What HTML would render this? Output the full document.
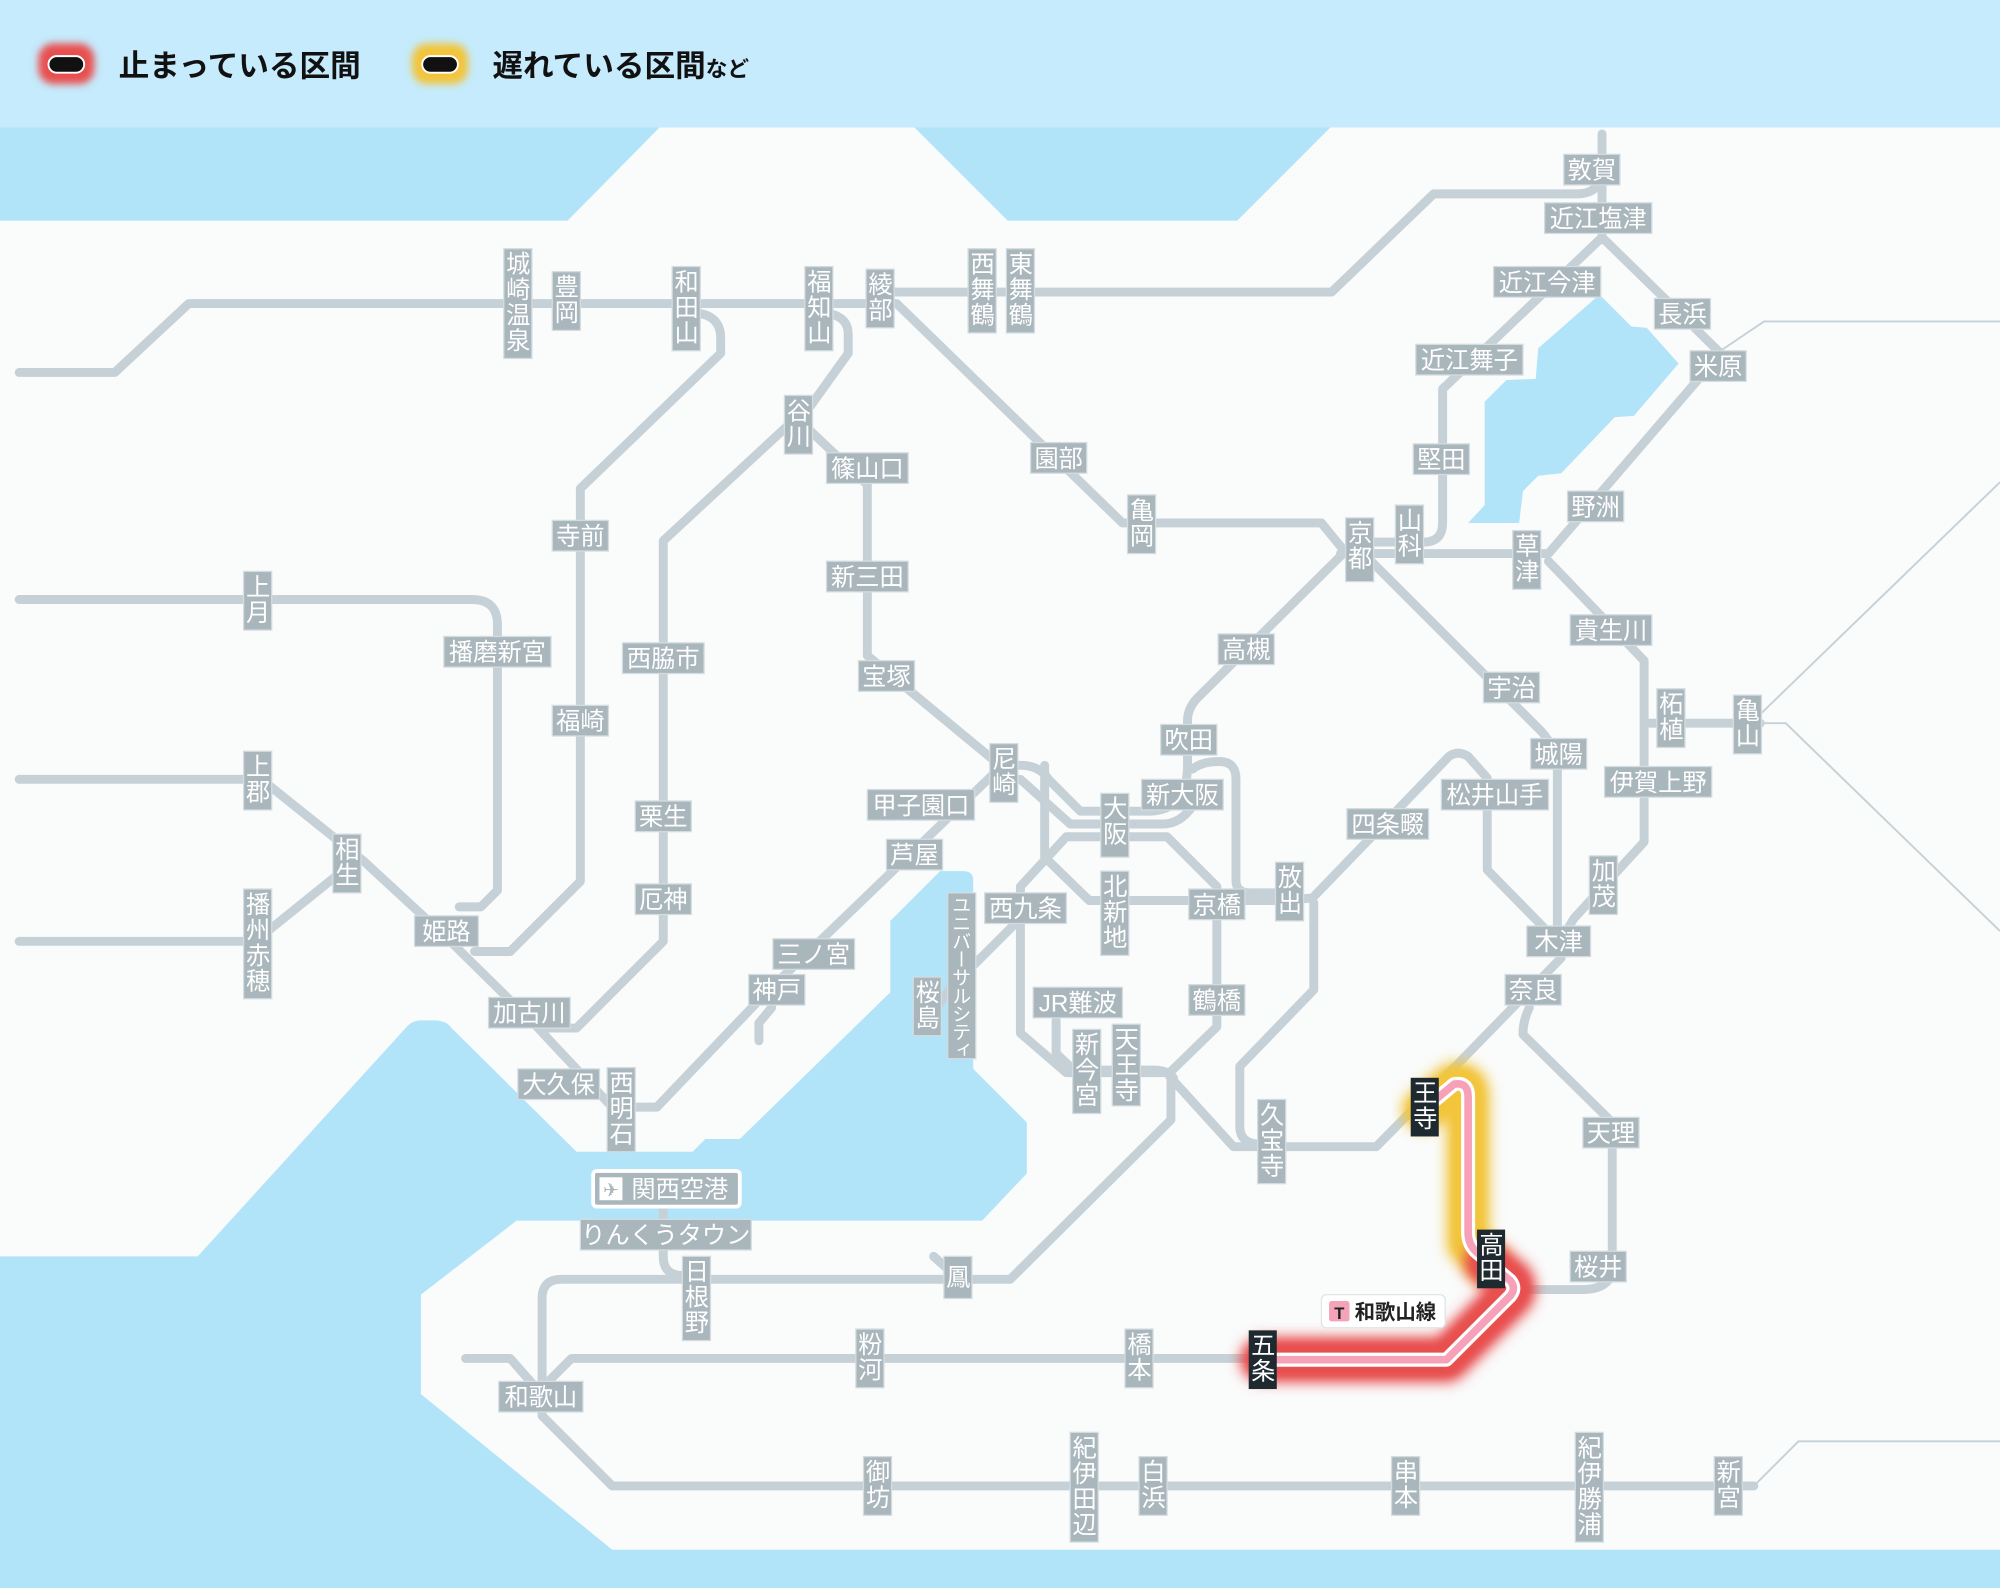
<!DOCTYPE html>
<html><head><meta charset="utf-8"><style>
html,body{margin:0;padding:0;background:#fafbfb;}
svg{display:block;}
.l{fill:none;stroke:#c6d1d7;stroke-width:7;stroke-linejoin:round;stroke-linecap:round;}
.t{fill:none;stroke:#c6d1d7;stroke-width:1.5;}
.b{fill:#a9b6bc;stroke:#d4dce0;stroke-width:1;}
.d{fill:#1e2a30;}
text{font-family:"Liberation Sans","Noto Sans CJK JP",sans-serif;}
.h{font-size:19px;fill:#fff;text-anchor:middle;}
.v{font-size:19px;fill:#fff;writing-mode:vertical-rl;letter-spacing:1px;}
</style></head><body>
<svg width="2000" height="1588" viewBox="0 0 1568 1245" xmlns="http://www.w3.org/2000/svg">
<defs>
<filter id="bl" x="-50%" y="-50%" width="200%" height="200%"><feGaussianBlur stdDeviation="5"/></filter>
<filter id="bl2" x="-50%" y="-50%" width="200%" height="200%"><feGaussianBlur stdDeviation="3"/></filter>
</defs>
<rect x="0" y="0" width="1568" height="1245" fill="#b1e3f9"/>
<rect x="0" y="0" width="1568" height="100" fill="#c5ebfd"/>
<!-- land -->
<path fill="#fafbfb" d="M0,173 H445 L517,100 H717 L790,173 H970 L1043,100 H1568 V1215 H480 L330,1093 V1015 L405,957 H770 L805,920 V880 L763,838 V690 Q763,683 755,683 H737 L698,722 V778 L580,893 H553 L543,903 H452 L354,806 Q350,800 340,800 H330 Q323,800 318,806 L155,985 H0 Z"/>
<!-- lake biwa -->
<path fill="#b1e3f9" d="M1254,231 L1279,256 L1291,257 L1316,285 L1281,326 L1266,327 L1224,371 L1206,373 L1194,385 L1191,410 L1151,410 L1164,396 L1164,315 L1181,298 L1204,297 L1206,273 Z"/>

<!-- legend -->
<rect x="30" y="34" width="44" height="32" rx="12" fill="#e8504f" filter="url(#bl2)"/>
<rect x="38" y="44" width="28" height="13" rx="6.5" fill="#111" stroke="#fff" stroke-width="1.5"/>
<text x="93" y="60" style="font-size:24px;font-weight:bold;fill:#111">止まっている区間</text>
<rect x="323" y="34" width="44" height="32" rx="12" fill="#f2c53a" filter="url(#bl2)"/>
<rect x="331" y="44" width="28" height="13" rx="6.5" fill="#111" stroke="#fff" stroke-width="1.5"/>
<text x="386" y="60" style="font-size:24px;font-weight:bold;fill:#111">遅れている区間<tspan style="font-size:17px">など</tspan></text>

<!-- thin lines -->
<path class="t" d="M1349,275 L1383,252 H1568"/>
<path class="t" d="M1370,567 H1400 L1568,730"/>
<path class="t" d="M1380,560 L1568,378"/>
<path class="t" d="M1375,1165 L1410,1130 H1568"/>

<!-- lines -->
<path class="l" d="M15,292 H90 L148,238 H703 L880,410 H1036 L1054,432"/>
<path class="l" d="M700,229 H1044 L1124,152 H1236 Q1254,152 1256,136"/>
<path class="l" d="M1256,105 V188"/>
<path class="l" d="M1254,188 L1131,305 V410 Q1131,425 1116,425 H1066"/>
<path class="l" d="M1258,188 L1349,277 L1214,434"/>
<path class="l" d="M1051,434 H1214"/>
<path class="l" d="M1214,440 L1289,518 V660 L1234,720 L1222,740"/>
<path class="l" d="M1289,567 H1380"/>
<path class="l" d="M1075,440 L1205,570 Q1221,585 1221,605 V740"/>
<path class="l" d="M1055,432 L938,548 Q931,556 931,565 V600 Q931,636 900,636 H847 L822,611 Q815,600 800,600 H788"/>
<path class="l" d="M790,611 H800 L839,646 H912 Q925,646 935,632"/>
<path class="l" d="M935,603 Q942,597 956,597 Q969,597 969,611 V690 Q969,700 980,700 H1006"/>
<path class="l" d="M640,245 Q665,245 665,262 V277 L627,330 L680,380 V514 L790,605"/>
<path class="l" d="M627,325 L520,424 V738 L452,806 H425"/>
<path class="l" d="M540,245 Q565,245 565,265 V277 L455,383 V691 L400,746 H372"/>
<path class="l" d="M15,470 H370 Q390,470 390,490 V698 L377,711 H360"/>
<path class="l" d="M15,611 H205 L285,675 L350,735 L420,804 L480,868 H515 L600,779 L786,600"/>
<path class="l" d="M15,738 H200 L272,680"/>
<path class="l" d="M605,790 L595,802 V816"/>
<path class="l" d="M819,600 V672 L854,706 H1006 L1029,704 L1136,593 Q1143,588 1151,593 L1166,610 V682 L1214,731"/>
<path class="l" d="M836,656 H915 L954,695 V805 L917,841 H836 L800,810 V695 Z"/>
<path class="l" d="M1030,708 V776 L972,836 V883 Q972,897 988,897"/>
<path class="l" d="M917,844 L967,899 H1079 L1144,833 L1224,751"/>
<path class="l" d="M1199,790 Q1194,800 1194,811 L1264,880 V993 Q1264,1011 1240,1011 H1185"/>
<path class="l" d="M918,844 V878 L792,1003 H440 Q425,1003 425,1018 V1110 L480,1165 H1375"/>
<path class="l" d="M752,1003 L732,985"/>
<path class="l" d="M520,946 V985 Q520,1000 535,1000 H545"/>
<path class="l" d="M365,1065 H400 L422,1090"/>
<path class="l" d="M430,1083 L448,1065 H985"/>
<path class="l" d="M800,720 L745,775 L727,800"/>
<path class="l" d="M828,800 V826 L842,839 H905 Q915,839 920,845"/>

<!-- disrupted section -->
<path d="M1166,990 L1151,975 V860 Q1151,848 1140,850 L1116,870" fill="none" stroke="#f2c53a" stroke-width="34" stroke-linecap="round" stroke-linejoin="round" filter="url(#bl)"/>
<path d="M1166,990 L1151,975 V860 Q1151,848 1140,850 L1116,870" fill="none" stroke="#f2c53a" stroke-width="22" stroke-linecap="round" stroke-linejoin="round" filter="url(#bl2)"/>
<path d="M990,1066 H1134 L1184,1016 Q1189,1010 1184,1004 L1166,990" fill="none" stroke="#e8504f" stroke-width="36" stroke-linecap="round" stroke-linejoin="round" filter="url(#bl)"/>
<path d="M990,1066 H1134 L1184,1016 Q1189,1010 1184,1004 L1166,990" fill="none" stroke="#e8504f" stroke-width="24" stroke-linecap="round" stroke-linejoin="round" filter="url(#bl2)"/>
<path d="M990,1066 H1134 L1184,1016 Q1189,1010 1184,1004 L1158,982 Q1151,976 1151,966 V860 Q1151,848 1140,850 L1116,870" fill="none" stroke="#fff" stroke-width="11" stroke-linejoin="round"/>
<path d="M990,1066 H1134 L1184,1016 Q1189,1010 1184,1004 L1158,982 Q1151,976 1151,966 V860 Q1151,848 1140,850 L1116,870" fill="none" stroke="#f6a1b8" stroke-width="6" stroke-linejoin="round"/>

<!-- horizontal labels -->
<g>
<rect class="b" x="1226" y="121" width="44" height="24"/><text class="h" x="1248" y="140">敦賀</text>
<rect class="b" x="1211" y="159" width="84" height="24"/><text class="h" x="1253" y="178">近江塩津</text>
<rect class="b" x="1171" y="209" width="84" height="24"/><text class="h" x="1213" y="228">近江今津</text>
<rect class="b" x="1297" y="234" width="44" height="24"/><text class="h" x="1319" y="253">長浜</text>
<rect class="b" x="1110" y="270" width="84" height="24"/><text class="h" x="1152" y="289">近江舞子</text>
<rect class="b" x="1325" y="275" width="44" height="24"/><text class="h" x="1347" y="294">米原</text>
<rect class="b" x="1108" y="348" width="44" height="24"/><text class="h" x="1130" y="367">堅田</text>
<rect class="b" x="1229" y="385" width="44" height="24"/><text class="h" x="1251" y="404">野洲</text>
<rect class="b" x="1231" y="482" width="64" height="24"/><text class="h" x="1263" y="501">貴生川</text>
<rect class="b" x="1163" y="527" width="44" height="24"/><text class="h" x="1185" y="546">宇治</text>
<rect class="b" x="1200" y="579" width="44" height="24"/><text class="h" x="1222" y="598">城陽</text>
<rect class="b" x="1258" y="601" width="84" height="24"/><text class="h" x="1300" y="620">伊賀上野</text>
<rect class="b" x="1130" y="611" width="84" height="24"/><text class="h" x="1172" y="630">松井山手</text>
<rect class="b" x="1056" y="634" width="64" height="24"/><text class="h" x="1088" y="653">四条畷</text>
<rect class="b" x="1197" y="726" width="50" height="24"/><text class="h" x="1222" y="745">木津</text>
<rect class="b" x="1180" y="764" width="44" height="24"/><text class="h" x="1202" y="783">奈良</text>
<rect class="b" x="1241" y="876" width="44" height="24"/><text class="h" x="1263" y="895">天理</text>
<rect class="b" x="1231" y="981" width="44" height="24"/><text class="h" x="1253" y="1000">桜井</text>
<rect class="b" x="808" y="347" width="44" height="24"/><text class="h" x="830" y="366">園部</text>
<rect class="b" x="648" y="355" width="64" height="24"/><text class="h" x="680" y="374">篠山口</text>
<rect class="b" x="433" y="408" width="44" height="24"/><text class="h" x="455" y="427">寺前</text>
<rect class="b" x="648" y="440" width="64" height="24"/><text class="h" x="680" y="459">新三田</text>
<rect class="b" x="955" y="497" width="44" height="24"/><text class="h" x="977" y="516">高槻</text>
<rect class="b" x="348" y="499" width="84" height="24"/><text class="h" x="390" y="518">播磨新宮</text>
<rect class="b" x="488" y="504" width="64" height="24"/><text class="h" x="520" y="523">西脇市</text>
<rect class="b" x="673" y="518" width="44" height="24"/><text class="h" x="695" y="537">宝塚</text>
<rect class="b" x="433" y="553" width="44" height="24"/><text class="h" x="455" y="572">福崎</text>
<rect class="b" x="910" y="568" width="44" height="24"/><text class="h" x="932" y="587">吹田</text>
<rect class="b" x="895" y="611" width="64" height="24"/><text class="h" x="927" y="630">新大阪</text>
<rect class="b" x="680" y="619" width="84" height="24"/><text class="h" x="722" y="638">甲子園口</text>
<rect class="b" x="498" y="628" width="44" height="24"/><text class="h" x="520" y="647">栗生</text>
<rect class="b" x="695" y="658" width="44" height="24"/><text class="h" x="717" y="677">芦屋</text>
<rect class="b" x="498" y="693" width="44" height="24"/><text class="h" x="520" y="712">厄神</text>
<rect class="b" x="772" y="700" width="64" height="24"/><text class="h" x="804" y="719">西九条</text>
<rect class="b" x="932" y="697" width="44" height="24"/><text class="h" x="954" y="716">京橋</text>
<rect class="b" x="325" y="718" width="50" height="24"/><text class="h" x="350" y="737">姫路</text>
<rect class="b" x="606" y="736" width="64" height="24"/><text class="h" x="638" y="755">三ノ宮</text>
<rect class="b" x="587" y="764" width="44" height="24"/><text class="h" x="609" y="783">神戸</text>
<rect class="b" x="932" y="772" width="44" height="24"/><text class="h" x="954" y="791">鶴橋</text>
<rect class="b" x="810" y="774" width="70" height="24"/><text class="h" x="845" y="793">JR難波</text>
<rect class="b" x="383" y="782" width="64" height="24"/><text class="h" x="415" y="801">加古川</text>
<rect class="b" x="406" y="838" width="64" height="24"/><text class="h" x="438" y="857">大久保</text>
<rect class="b" x="455" y="956" width="134" height="24"/><text class="h" x="522" y="975">りんくうタウン</text>
<rect class="b" x="391" y="1083" width="66" height="24"/><text class="h" x="424" y="1102">和歌山</text>
</g>

<!-- vertical labels -->
<g>
<rect class="b" x="395" y="195" width="22" height="86"/>
<rect class="b" x="433" y="213" width="22" height="46"/>
<rect class="b" x="527" y="209" width="22" height="66"/>
<rect class="b" x="631" y="209" width="22" height="66"/>
<rect class="b" x="679" y="211" width="22" height="46"/>
<rect class="b" x="759" y="195" width="22" height="66"/>
<rect class="b" x="789" y="195" width="22" height="66"/>
<rect class="b" x="615" y="310" width="22" height="46"/>
<rect class="b" x="884" y="388" width="22" height="46"/>
<rect class="b" x="1055" y="406" width="22" height="50"/>
<rect class="b" x="1094" y="396" width="22" height="46"/>
<rect class="b" x="1186" y="416" width="22" height="46"/>
<rect class="b" x="191" y="448" width="22" height="46"/>
<rect class="b" x="191" y="589" width="22" height="46"/>
<rect class="b" x="261" y="654" width="22" height="46"/>
<rect class="b" x="191" y="697" width="22" height="86"/>
<rect class="b" x="1299" y="540" width="22" height="46"/>
<rect class="b" x="1359" y="545" width="22" height="46"/>
<rect class="b" x="776" y="583" width="22" height="46"/>
<rect class="b" x="863" y="622" width="22" height="50"/>
<rect class="b" x="863" y="683" width="22" height="66"/>
<rect class="b" x="1000" y="676" width="22" height="46"/>
<rect class="b" x="1246" y="671" width="22" height="46"/>
<rect class="b" x="716" y="766" width="22" height="46"/>
<rect class="b" x="841" y="807" width="22" height="66"/>
<rect class="b" x="872" y="803" width="22" height="64"/>
<rect class="b" x="986" y="862" width="22" height="66"/>
<rect class="b" x="476" y="837" width="22" height="66"/>
<rect class="b" x="535" y="985" width="22" height="66"/>
<rect class="b" x="740" y="985" width="22" height="33"/>
<rect class="b" x="671" y="1042" width="22" height="46"/>
<rect class="b" x="882" y="1042" width="22" height="46"/>
<rect class="b" x="839" y="1123" width="22" height="86"/>
<rect class="b" x="893" y="1142" width="22" height="46"/>
<rect class="b" x="677" y="1142" width="22" height="46"/>
<rect class="b" x="1091" y="1142" width="22" height="46"/>
<rect class="b" x="1235" y="1123" width="22" height="86"/>
<rect class="b" x="1344" y="1142" width="22" height="46"/>
<rect class="b" x="743" y="700" width="22" height="130"/>
<rect class="d" x="1106" y="845" width="22" height="46"/>
<rect class="d" x="1158" y="964" width="22" height="46"/>
<rect class="d" x="979" y="1043" width="22" height="46"/>
</g>
<g transform="translate(-2,0)">
<text class="v" x="406" y="197">城崎温泉</text>
<text class="v" x="444" y="215">豊岡</text>
<text class="v" x="538" y="211">和田山</text>
<text class="v" x="642" y="211">福知山</text>
<text class="v" x="690" y="213">綾部</text>
<text class="v" x="770" y="197">西舞鶴</text>
<text class="v" x="800" y="197">東舞鶴</text>
<text class="v" x="626" y="312">谷川</text>
<text class="v" x="895" y="390">亀岡</text>
<text class="v" x="1066" y="408">京都</text>
<text class="v" x="1105" y="398">山科</text>
<text class="v" x="1197" y="418">草津</text>
<text class="v" x="202" y="450">上月</text>
<text class="v" x="202" y="591">上郡</text>
<text class="v" x="272" y="656">相生</text>
<text class="v" x="202" y="699">播州赤穂</text>
<text class="v" x="1310" y="542">柘植</text>
<text class="v" x="1370" y="547">亀山</text>
<text class="v" x="787" y="585">尼崎</text>
<text class="v" x="874" y="624">大阪</text>
<text class="v" x="874" y="685">北新地</text>
<text class="v" x="1011" y="678">放出</text>
<text class="v" x="1257" y="673">加茂</text>
<text class="v" x="727" y="768">桜島</text>
<text class="v" x="852" y="809">新今宮</text>
<text class="v" x="883" y="805">天王寺</text>
<text class="v" x="997" y="864">久宝寺</text>
<text class="v" x="487" y="839">西明石</text>
<text class="v" x="546" y="987">日根野</text>
<text class="v" x="751" y="991">鳳</text>
<text class="v" x="682" y="1044">粉河</text>
<text class="v" x="893" y="1044">橋本</text>
<text class="v" x="850" y="1125">紀伊田辺</text>
<text class="v" x="904" y="1144">白浜</text>
<text class="v" x="688" y="1144">御坊</text>
<text class="v" x="1102" y="1144">串本</text>
<text class="v" x="1246" y="1125">紀伊勝浦</text>
<text class="v" x="1355" y="1144">新宮</text>
<text class="v" x="754" y="702" style="font-size:15px;letter-spacing:-0.8px">ユニバーサルシティ</text>
<text class="v" x="1117" y="847">王寺</text>
<text class="v" x="1169" y="966">高田</text>
<text class="v" x="990" y="1045">五条</text>
</g>

<!-- Kansai airport -->
<rect x="465" y="918" width="115" height="28" rx="3" fill="#a9b6bc" stroke="#fff" stroke-width="3"/>
<rect x="470" y="923" width="18" height="18" fill="#fff"/>
<text x="479" y="938" style="font-size:15px;fill:#a9b6bc;text-anchor:middle">✈</text>
<text x="533" y="939" class="h">関西空港</text>

<!-- Wakayama line tag -->
<rect x="1036" y="1015" width="97" height="26" rx="4" fill="#fff" stroke="#dfe5e8" stroke-width="1"/>
<rect x="1042" y="1020" width="16" height="16" rx="2" fill="#f4a3b9"/>
<text x="1050" y="1034" style="font-size:13px;font-weight:bold;fill:#222;text-anchor:middle">T</text>
<text x="1062" y="1034" style="font-size:16px;font-weight:bold;fill:#222">和歌山線</text>
</svg>
</body></html>
